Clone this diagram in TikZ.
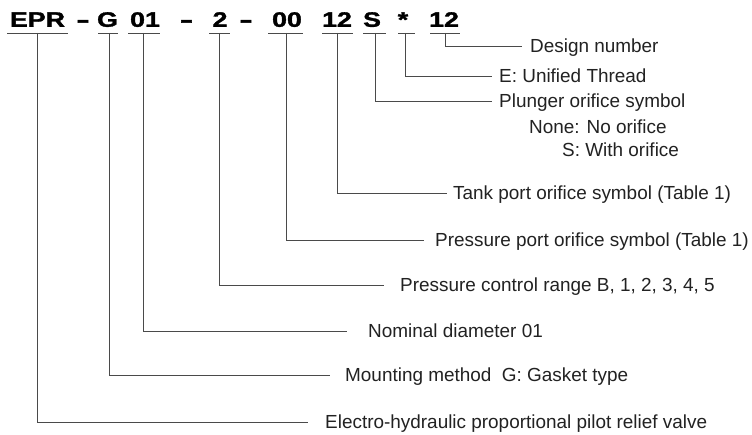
\documentclass[tikz,border=0pt]{standalone}
\usepackage{fontspec}
\setmainfont{Liberation Sans}
\newfontfamily\codefont{Liberation Sans}[BoldFeatures={FakeBold=1.4}]
\usepackage{graphicx}
\definecolor{ink}{HTML}{222222}
\definecolor{wirecol}{HTML}{4A4A4A}
\tikzset{
  code/.style={anchor=base, inner sep=0pt, font=\fontsize{21}{21}\codefont\bfseries, text=black},
  lab/.style={anchor=base west, inner sep=0pt, font=\fontsize{19}{19}\selectfont, text=ink},
  uline/.style={draw=wirecol, line width=0.9bp},
  wire/.style={draw=wirecol, line width=0.9bp},
}
\newcommand{\cx}[1]{\scalebox{1.28}[1]{#1}}
\newcommand{\dx}{\scalebox{1.9}[1]{-}}
\begin{document}
\begin{tikzpicture}[x=1bp,y=-1bp]
\fill[white] (0,0) rectangle (752,435);
\useasboundingbox (0,0) rectangle (752,435);
% code characters
\node[code] (epr) at (37.5,26.8) {\cx{EPR}};
\node[code] (d1) at (83,26.8) {\dx};
\node[code] (g) at (107.5,26.8) {\cx{G}};
\node[code] (s01) at (145,26.8) {\cx{01}};
\node[code] (d2) at (186.5,26.8) {\dx};
\node[code] (r2) at (220,26.8) {\cx{2}};
\node[code] (d3) at (246,26.8) {\dx};
\node[code] (p00) at (287,26.8) {\cx{00}};
\node[code] (t12) at (337,26.8) {\cx{12}};
\node[code] (sy) at (372,26.8) {\cx{S}};
\node[code] (ast) at (403,26.8) {\cx{*}};
\node[code] (n12) at (444,26.8) {\cx{12}};
% underlines
\draw[uline] (7,33) -- (68,33);
\draw[uline] (98,33) -- (118,33);
\draw[uline] (128,33) -- (160,33);
\draw[uline] (209,33) -- (230,33);
\draw[uline] (268,33) -- (303,33);
\draw[uline] (322,33) -- (353,33);
\draw[uline] (363,33) -- (386,33);
\draw[uline] (398,33) -- (415,33);
\draw[uline] (430,33) -- (460,33);
% connector start points
\coordinate (cEPR) at (37,33);
\coordinate (cG) at (109,33);
\coordinate (c01) at (143,33);
\coordinate (c2) at (219,33);
\coordinate (c00) at (286,33);
\coordinate (cT) at (337,33);
\coordinate (cS) at (375,33);
\coordinate (cA) at (405,33);
\coordinate (cN) at (445,33);
% connector end points
\coordinate (eN) at (522,46);
\coordinate (eA) at (492,76);
\coordinate (eS) at (492,101);
\coordinate (eT) at (447,193);
\coordinate (e00) at (424,240);
\coordinate (e2) at (384,285);
\coordinate (e01) at (347,331);
\coordinate (eG) at (330,375);
\coordinate (eEPR) at (308,422);
% labels
\node[lab] (lN) at (530,52.8) {Design number};
\node[lab] (lA) at (499,82.8) {E: Unified Thread};
\node[lab] (lS) at (499,107.8) {Plunger orifice symbol};
\node[lab] (lS1) at (529,133.8) {None: No orifice};
\node[lab] (lS2) at (562,156.8) {S: With orifice};
\node[lab] (lT) at (453,199.8) {Tank port orifice symbol (Table 1)};
\node[lab] (l00) at (435,246.8) {Pressure port orifice symbol (Table 1)};
\node[lab] (l2) at (400,291.8) {Pressure control range B, 1, 2, 3, 4, 5};
\node[lab] (l01) at (368,337.8) {Nominal diameter 01};
\node[lab] (lG) at (345,381.8) {Mounting method\hspace{0.55em}G: Gasket type};
\node[lab] (lEPR) at (325,428.8) {Electro-hydraulic proportional pilot relief valve};
% connectors
\draw[wire] (cN) |- (eN);
\draw[wire] (cA) |- (eA);
\draw[wire] (cS) |- (eS);
\draw[wire] (cT) |- (eT);
\draw[wire] (c00) |- (e00);
\draw[wire] (c2) |- (e2);
\draw[wire] (c01) |- (e01);
\draw[wire] (cG) |- (eG);
\draw[wire] (cEPR) |- (eEPR);
\end{tikzpicture}
\end{document}
